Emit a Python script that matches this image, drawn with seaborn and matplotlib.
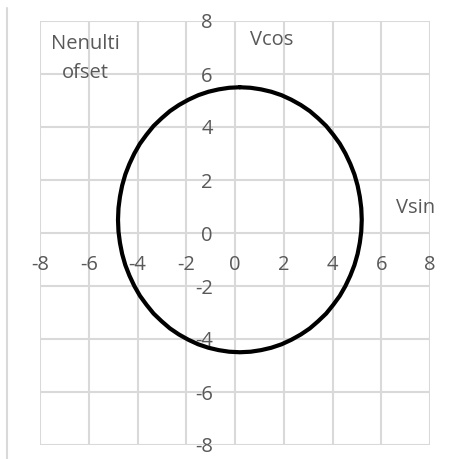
import matplotlib
matplotlib.use("Agg")
import matplotlib.pyplot as plt
import matplotlib.lines as mlines
import seaborn as sns
import pandas as pd

# Sampled points of the measured locus (every 5 degrees)
vsin = [0.20, 0.64, 1.07, 1.49, 1.91, 2.31, 2.70, 3.07, 3.41, 3.74,
        4.03, 4.30, 4.53, 4.73, 4.90, 5.03, 5.12, 5.18, 5.20,
        5.18, 5.12, 5.03, 4.90, 4.73, 4.53, 4.30, 4.03, 3.74, 3.41,
        3.07, 2.70, 2.31, 1.91, 1.49, 1.07, 0.64, 0.20,
        -0.24, -0.67, -1.09, -1.51, -1.91, -2.30, -2.67, -3.01, -3.34,
        -3.63, -3.90, -4.13, -4.33, -4.50, -4.63, -4.72, -4.78, -4.80,
        -4.78, -4.72, -4.63, -4.50, -4.33, -4.13, -3.90, -3.63, -3.34,
        -3.01, -2.67, -2.30, -1.91, -1.51, -1.09, -0.67, -0.24, 0.20]
vcos = [5.50, 5.48, 5.42, 5.33, 5.20, 5.03, 4.83, 4.60, 4.33, 4.04,
        3.71, 3.37, 3.00, 2.61, 2.21, 1.79, 1.37, 0.94, 0.50,
        0.06, -0.37, -0.79, -1.21, -1.61, -2.00, -2.37, -2.71, -3.04,
        -3.33, -3.60, -3.83, -4.03, -4.20, -4.33, -4.42, -4.48, -4.50,
        -4.48, -4.42, -4.33, -4.20, -4.03, -3.83, -3.60, -3.33, -3.04,
        -2.71, -2.37, -2.00, -1.61, -1.21, -0.79, -0.37, 0.06, 0.50,
        0.94, 1.37, 1.79, 2.21, 2.61, 3.00, 3.37, 3.71, 4.04,
        4.33, 4.60, 4.83, 5.03, 5.20, 5.33, 5.42, 5.48, 5.50]
ticks = [-8, -6, -4, -2, 0, 2, 4, 6, 8]
tick_labels = ["-8", "-6", "-4", "-2", "0", "2", "4", "6", "8"]

sns.set_style("white")
plt.rcParams["font.family"] = ["Open Sans", "DejaVu Sans"]
plt.rcParams["axes.unicode_minus"] = False

W, H = 454, 459
fig = plt.figure(figsize=(W / 100, H / 100), dpi=100)
ax = fig.add_axes([40 / W, 1 - 445 / H, 390 / W, 424 / H])

df = pd.DataFrame({"Vsin": vsin, "Vcos": vcos})
sns.lineplot(data=df, x="Vsin", y="Vcos", sort=False, estimator=None,
             color="black", linewidth=3, ax=ax, zorder=3,
             solid_joinstyle="round", solid_capstyle="round")

grid_c = "#d9d9d9"
ax.set_xlim(-8, 8)
ax.set_ylim(-8, 8)
ax.set_xticks(ticks)
ax.set_yticks(ticks)
ax.set_xticklabels(tick_labels)
ax.set_yticklabels(tick_labels)
ax.grid(True, color=grid_c, linewidth=1.5)
ax.set_axisbelow(True)

for s in ["top", "right"]:
    ax.spines[s].set_visible(False)
ax.spines["left"].set_position(("data", 0))
ax.spines["bottom"].set_position(("data", 0))
ax.spines["left"].set_visible(False)
ax.spines["bottom"].set_visible(False)
ax.tick_params(axis="both", length=0, labelsize=14.5, labelcolor="#595959")
ax.tick_params(axis="x", pad=16)
ax.tick_params(axis="y", pad=16)
ax.set_xlabel("")
ax.set_ylabel("")

# Outer frame edge on the left
fig.add_artist(mlines.Line2D([7 / W, 7 / W], [0, 1 - 8 / H],
                             transform=fig.transFigure, color=grid_c, linewidth=1.5))

txt = dict(color="#595959", fontsize=14.5, ha="center", va="center")
fig.text(85 / W, 1 - 44 / H, "Nenulti", **txt)
fig.text(85 / W, 1 - 73 / H, "ofset", **txt)
fig.text(272 / W, 1 - 40 / H, "Vcos", **txt)
fig.text(416 / W, 1 - 208 / H, "Vsin", **txt)

fig.savefig("out.png", dpi=100)
